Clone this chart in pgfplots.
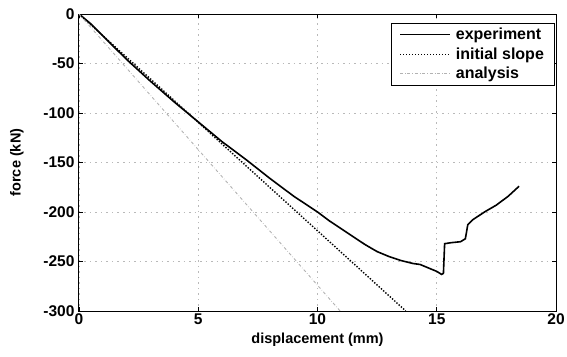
\documentclass[border=0pt]{standalone}
\usepackage{fontspec}
\setmainfont{Liberation Sans}
\usepackage{pgfplots}
\pgfplotsset{compat=1.18}

\begin{document}
\begin{tikzpicture}[x=1pt,y=1pt]
\begin{axis}[
  at={(0,0)}, anchor=south west,
  scale only axis,
  width=477pt, height=297pt,
  xmin=0, xmax=20, ymin=-300, ymax=0,
  xtick={0,5,10,15,20},
  ytick={0,-50,-100,-150,-200,-250,-300},
  /pgf/number format/assume math mode=true,
  tick label style={font=\fontsize{15.5}{17}\selectfont\bfseries},
  label style={font=\fontsize{14.5}{16}\selectfont\bfseries},
  xticklabel style={yshift=1pt},
  yticklabel style={xshift=-1pt},
  xlabel={displacement (mm)},
  ylabel={force (kN)},
  xlabel style={yshift=-2pt},
  ylabel style={yshift=13pt},
  grid=major,
  major grid style={gray!55, line width=0.6pt, dash pattern=on 1.5pt off 4pt},
  axis line style={line width=1pt},
  tick style={black, line width=0.6pt},
  tick align=inside,
  major tick length=4pt,
  legend style={at={(0.996,0.97)}, anchor=north east,
    font=\fontsize{16}{18}\selectfont\bfseries,
    draw=black, inner xsep=8pt, inner ysep=3pt,
    row sep=2.5pt, cells={anchor=west},
    /tikz/every odd column/.append style={column sep=3pt}},
  legend image code/.code={\draw[#1] (0pt,0pt) -- (50pt,0pt);},
]
% measured load-displacement response
\addplot[black, line width=1.6pt] coordinates {
  (0,0) (0.5,-10) (1,-22) (2,-46) (3,-68) (4,-89) (5,-109)
  (6,-129) (7,-147) (8,-166) (9,-184) (10,-200) (10.5,-209)
  (11,-217) (11.5,-225) (12,-233) (12.5,-240) (13,-245)
  (13.5,-249) (14,-252) (14.3,-253) (14.6,-256) (15,-260)
  (15.2,-263) (15.28,-262) (15.33,-232) (15.6,-231) (16.0,-230)
  (16.2,-227) (16.3,-213) (16.5,-208) (17,-200) (17.5,-193)
  (18,-184) (18.45,-174)
};
\addlegendentry{experiment}
% elastic stiffness
\addplot[black, line width=1.4pt, dash pattern=on 1.4pt off 1.6pt] coordinates {(0,0) (13.7,-300)};
\addlegendentry{initial slope}
% model prediction
\addplot[gray!60, dash dot, line width=0.9pt] coordinates {(0,0) (10.95,-300)};
\addlegendentry{analysis}
\end{axis}
\pgfresetboundingbox
\useasboundingbox (-79,-45) rectangle (488,311);
\end{tikzpicture}
\end{document}
